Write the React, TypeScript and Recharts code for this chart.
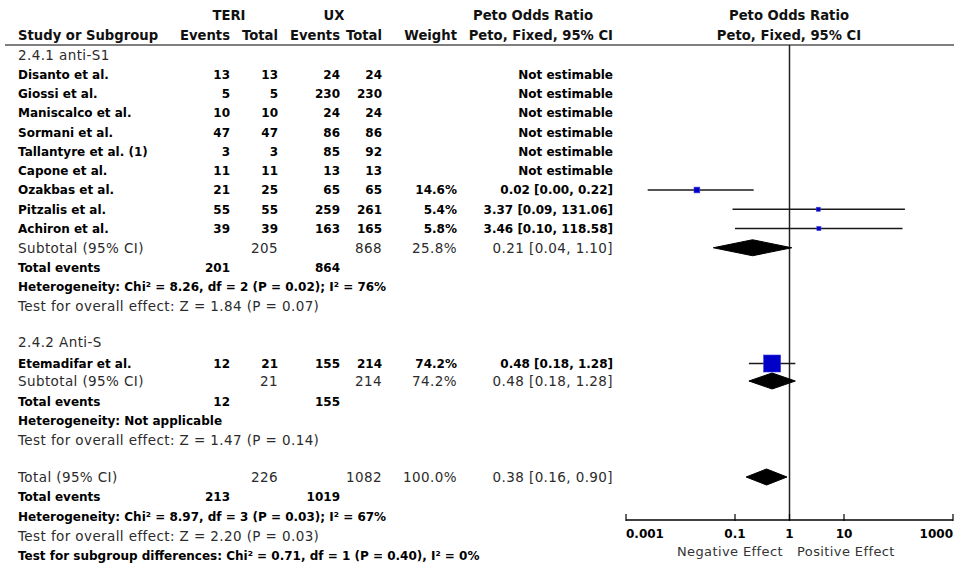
import React from 'react';
import { ComposedChart, Scatter, XAxis, YAxis, ReferenceLine, Customized } from 'recharts';

// ---------------- data ----------------
const group1Studies = ['Disanto et al.', 'Giossi et al.', 'Maniscalco et al.', 'Sormani et al.', 'Tallantyre et al. (1)', 'Capone et al.', 'Ozakbas et al.', 'Pitzalis et al.', 'Achiron et al.'];
const group1TeriEvents = [13, 5, 10, 47, 3, 11, 21, 55, 39];
const group1TeriTotal = [13, 5, 10, 47, 3, 11, 25, 55, 39];
const group1UxEvents = [24, 230, 24, 86, 85, 13, 65, 259, 163];
const group1UxTotal = [24, 230, 24, 86, 92, 13, 65, 261, 165];
const group1Weight: (number | null)[] = [null, null, null, null, null, null, 14.6, 5.4, 5.8];
const group1OR: (number | null)[] = [null, null, null, null, null, null, 0.02, 3.37, 3.46];
const group1Lower: (number | null)[] = [null, null, null, null, null, null, 0.0025, 0.09, 0.10];
const group1Upper: (number | null)[] = [null, null, null, null, null, null, 0.22, 131.06, 118.58];

const group2Studies = ['Etemadifar et al.'];
const group2TeriEvents = [12];
const group2TeriTotal = [21];
const group2UxEvents = [155];
const group2UxTotal = [214];
const group2Weight = [74.2];
const group2OR = [0.48];
const group2Lower = [0.18];
const group2Upper = [1.28];

const groupTitles = ['2.4.1 anti-S1', '2.4.2 Anti-S'];
const summaryLabels = ['Subtotal (95% CI)', 'Subtotal (95% CI)', 'Total (95% CI)'];
const summaryTeriTotal = [205, 21, 226];
const summaryUxTotal = [868, 214, 1082];
const summaryWeight = [25.8, 74.2, 100.0];
const summaryOR = [0.21, 0.48, 0.38];
const summaryLower = [0.04, 0.18, 0.16];
const summaryUpper = [1.10, 1.28, 0.90];
const totalEventsTeri = [201, 12, 213];
const totalEventsUx = [864, 155, 1019];
const heterogeneityText = [
  'Heterogeneity: Chi\u00b2 = 8.26, df = 2 (P = 0.02); I\u00b2 = 76%',
  'Heterogeneity: Not applicable',
  'Heterogeneity: Chi\u00b2 = 8.97, df = 3 (P = 0.03); I\u00b2 = 67%',
];
const overallEffectText = [
  'Test for overall effect: Z = 1.84 (P = 0.07)',
  'Test for overall effect: Z = 1.47 (P = 0.14)',
  'Test for overall effect: Z = 2.20 (P = 0.03)',
];
const subgroupDiffText = 'Test for subgroup differences: Chi\u00b2 = 0.71, df = 1 (P = 0.40), I\u00b2 = 0%';

const axisTicks = [0.001, 0.1, 1, 10, 1000];
const axisTickLabels = ['0.001', '0.1', '1', '10', '1000'];

// ---------------- layout ----------------
const W = 954;
const H = 569;
const PLOT_TOP = 45;
const AXIS_Y = 520;
const ROW = 19.25;
const G1_TITLE = 55;
const G1_FIRST = 74.5;
const G1_SUB = G1_FIRST + group1Studies.length * ROW;
const G2_TITLE = 342;
const G2_FIRST = 363.5;
const G2_SUB = 381;
const TOT = 477;

const summaryRows = [
  { sub: G1_SUB, ev: G1_SUB + 19.5, het: G1_SUB + 39, test: G1_SUB + 58.5 },
  { sub: G2_SUB, ev: 402, het: 421, test: 440 },
  { sub: TOT, ev: 497, het: 516.5, test: 536 },
];
const SUBGROUP_Y = 555.5;

const COL = { name: 18, te: 230, tt: 278, ue: 340, ut: 382, w: 457, or: 613 };
const FONT = 'DejaVu Sans';

const fmt2 = (v: number) => v.toFixed(2);
const orText = (o: number, l: number, u: number) => `${fmt2(o)} [${fmt2(l)}, ${fmt2(u)}]`;

type Study = { name: string; te: number; tt: number; ue: number; ut: number; w: number | null; or: number | null; lo: number | null; hi: number | null; y: number };

const studies: Study[] = [
  ...group1Studies.map((name, i) => ({
    name, te: group1TeriEvents[i], tt: group1TeriTotal[i], ue: group1UxEvents[i], ut: group1UxTotal[i],
    w: group1Weight[i], or: group1OR[i], lo: group1Lower[i], hi: group1Upper[i], y: G1_FIRST + i * ROW,
  })),
  ...group2Studies.map((name, i) => ({
    name, te: group2TeriEvents[i], tt: group2TeriTotal[i], ue: group2UxEvents[i], ut: group2UxTotal[i],
    w: group2Weight[i], or: group2OR[i], lo: group2Lower[i], hi: group2Upper[i], y: G2_FIRST + i * ROW,
  })),
];
const estimable = studies.filter((s) => s.or != null);
const maxWeight = Math.max(...estimable.map((s) => s.w as number));

const T = ({ x, y, anchor = 'start', bold = false, size, color, children }: any) => (
  <text
    x={x}
    y={y}
    dy="0.36em"
    textAnchor={anchor}
    fontFamily={FONT}
    fontWeight={bold ? 'bold' : 'normal'}
    fontSize={size ?? (bold ? 12 : 13.5)}
    letterSpacing={bold ? 0 : 0.4}
    fill={color ?? (bold ? '#000' : '#2b2b2b')}
  >
    {children}
  </text>
);

const TableLayer = () => {
  const hdr = { bold: true, size: 13.2, color: '#111' };
  return (
    <g>
      {/* header */}
      <T x={229} y={15} anchor="middle" {...hdr}>TERI</T>
      <T x={334} y={15} anchor="middle" {...hdr}>UX</T>
      <T x={533} y={15} anchor="middle" {...hdr}>Peto Odds Ratio</T>
      <T x={789} y={15} anchor="middle" {...hdr}>Peto Odds Ratio</T>
      <T x={COL.name} y={35} {...hdr}>Study or Subgroup</T>
      <T x={COL.te} y={35} anchor="end" {...hdr}>Events</T>
      <T x={COL.tt} y={35} anchor="end" {...hdr}>Total</T>
      <T x={COL.ue} y={35} anchor="end" {...hdr}>Events</T>
      <T x={COL.ut} y={35} anchor="end" {...hdr}>Total</T>
      <T x={COL.w} y={35} anchor="end" {...hdr}>Weight</T>
      <T x={COL.or} y={35} anchor="end" {...hdr}>Peto, Fixed, 95% CI</T>
      <T x={789} y={35} anchor="middle" {...hdr}>Peto, Fixed, 95% CI</T>
      <line x1={5} y1={PLOT_TOP} x2={W} y2={PLOT_TOP} stroke="#555" strokeWidth={1.5} />

      {/* group titles */}
      <T x={COL.name} y={G1_TITLE}>{groupTitles[0]}</T>
      <T x={COL.name} y={G2_TITLE}>{groupTitles[1]}</T>

      {/* study rows */}
      {studies.map((s, i) => (
        <g key={i}>
          <T x={COL.name} y={s.y} bold>{s.name}</T>
          <T x={COL.te} y={s.y} anchor="end" bold>{s.te}</T>
          <T x={COL.tt} y={s.y} anchor="end" bold>{s.tt}</T>
          <T x={COL.ue} y={s.y} anchor="end" bold>{s.ue}</T>
          <T x={COL.ut} y={s.y} anchor="end" bold>{s.ut}</T>
          {s.w != null && <T x={COL.w} y={s.y} anchor="end" bold>{s.w.toFixed(1)}%</T>}
          <T x={COL.or} y={s.y} anchor="end" bold>
            {s.or == null ? 'Not estimable' : orText(s.or, s.lo as number, s.hi as number)}
          </T>
        </g>
      ))}

      {/* summary blocks */}
      {summaryRows.map((r, i) => (
        <g key={i}>
          <T x={COL.name} y={r.sub}>{summaryLabels[i]}</T>
          <T x={COL.tt} y={r.sub} anchor="end">{summaryTeriTotal[i]}</T>
          <T x={COL.ut} y={r.sub} anchor="end">{summaryUxTotal[i]}</T>
          <T x={COL.w} y={r.sub} anchor="end">{summaryWeight[i].toFixed(1)}%</T>
          <T x={COL.or} y={r.sub} anchor="end">{orText(summaryOR[i], summaryLower[i], summaryUpper[i])}</T>
          <T x={COL.name} y={r.ev} bold>Total events</T>
          <T x={COL.te} y={r.ev} anchor="end" bold>{totalEventsTeri[i]}</T>
          <T x={COL.ue} y={r.ev} anchor="end" bold>{totalEventsUx[i]}</T>
          <T x={COL.name} y={r.het} bold>{heterogeneityText[i]}</T>
          <T x={COL.name} y={r.test}>{overallEffectText[i]}</T>
        </g>
      ))}
      <T x={COL.name} y={SUBGROUP_Y} bold>{subgroupDiffText}</T>

      {/* effect direction labels */}
      <T x={783} y={551} anchor="end" size={13} color="#333">Negative Effect</T>
      <T x={797} y={551} anchor="start" size={13} color="#333">Positive Effect</T>
    </g>
  );
};

const AxisTick = (props: any) => {
  const { x, y, payload } = props;
  const i = axisTicks.indexOf(payload.value);
  const anchor = i === 0 ? 'start' : i === axisTicks.length - 1 ? 'end' : 'middle';
  return (
    <g>
      <line x1={x} y1={y - 6} x2={x} y2={y + 1} stroke="#000" strokeWidth={1.2} />
      <text x={x} y={y + 18} textAnchor={anchor} fontFamily={FONT} fontWeight="bold" fontSize={12} fill="#000">
        {axisTickLabels[i]}
      </text>
    </g>
  );
};

const SquareShape = (props: any) => {
  const { cx, cy, payload } = props;
  const s = 3 + 14 * (payload.w / maxWeight);
  return <rect x={cx - s / 2} y={cy - s / 2} width={s} height={s} fill="#0000c8" stroke="#3b3be0" strokeWidth={0.6} />;
};

const NoShape = () => <g />;

export default function App() {
  return (
    <div style={{ position: 'absolute', left: 0, top: 0, width: W, height: H, background: '#fff' }}>
      <ComposedChart width={W} height={H} margin={{ top: PLOT_TOP, right: 1, bottom: 0, left: 626 }}>
        <XAxis
          type="number"
          dataKey="x"
          scale="log"
          domain={[0.001, 1000]}
          allowDataOverflow
          ticks={axisTicks}
          interval={0}
          height={H - AXIS_Y}
          tickSize={0}
          tickMargin={0}
          tickLine={false}
          axisLine={{ stroke: '#000', strokeWidth: 1.5 }}
          tick={<AxisTick />}
        />
        <YAxis type="number" dataKey="y" domain={[PLOT_TOP, AXIS_Y]} reversed hide width={0} />
        <Customized component={TableLayer} />
        <ReferenceLine x={1} stroke="#222" strokeWidth={1.5} />
        {estimable.map((s, i) => (
          <Scatter
            key={'ci' + i}
            data={[{ x: s.lo, y: s.y }, { x: s.hi, y: s.y }]}
            line={{ stroke: '#1a1a1a', strokeWidth: 1.3 }}
            shape={NoShape}
            isAnimationActive={false}
          />
        ))}
        <Scatter
          data={estimable.map((s) => ({ x: s.or, y: s.y, w: s.w }))}
          shape={SquareShape}
          isAnimationActive={false}
        />
        {summaryRows.map((r, i) => (
          <Scatter
            key={'dm' + i}
            data={[
              { x: summaryLower[i], y: r.sub },
              { x: summaryOR[i], y: r.sub - 8 },
              { x: summaryUpper[i], y: r.sub },
              { x: summaryOR[i], y: r.sub + 8 },
              { x: summaryLower[i], y: r.sub },
            ]}
            fill="#000"
            line={{ stroke: '#000', fill: '#000', strokeWidth: 1 }}
            shape={NoShape}
            isAnimationActive={false}
          />
        ))}
      </ComposedChart>
    </div>
  );
}
